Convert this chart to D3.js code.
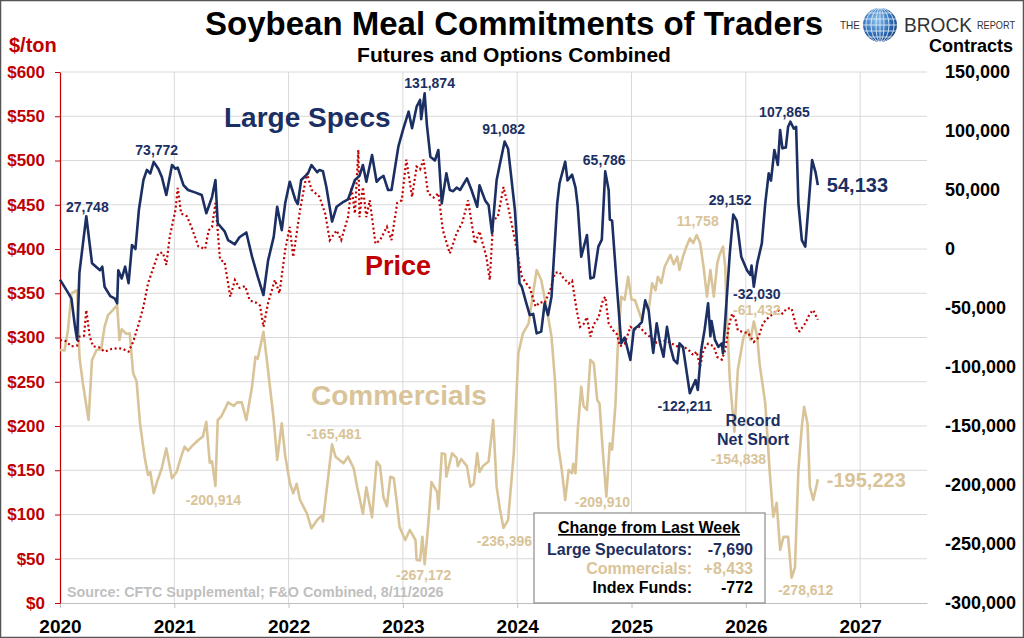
<!DOCTYPE html>
<html>
<head>
<meta charset="utf-8">
<script src="https://cdn.jsdelivr.net/npm/d3@7"></script>
<style>
  body { margin: 0; background: #fff; }
  svg { display: block; font-family: "Liberation Sans", Arial, sans-serif; }
</style>
</head>
<body>
<svg id="chart" width="1024" height="638"></svg>
<script>
// tick labels
const yearTicks = [2020, 2021, 2022, 2023, 2024, 2025, 2026, 2027];
const priceTicks = [0, 50, 100, 150, 200, 250, 300, 350, 400, 450, 500, 550, 600];
const contractTicks = [-300000, -250000, -200000, -150000, -100000, -50000, 0, 50000, 100000, 150000];

// Large speculators net position (contracts), [decimal year, value]
const largeSpecs = [
  [2020.00,-26000],[2020.07,-37000],[2020.10,-42000],[2020.13,-65000],[2020.15,-77000],[2020.17,-20000],
  [2020.23,27748],[2020.28,-12000],[2020.35,-18000],[2020.37,-15000],[2020.39,-32000],[2020.44,-40000],
  [2020.48,-42000],[2020.50,-46000],[2020.51,-18000],[2020.54,-25000],[2020.57,-15000],[2020.60,-29000],
  [2020.63,3400],[2020.66,0],[2020.69,33000],[2020.73,58500],[2020.76,67000],[2020.79,64000],
  [2020.82,73772],[2020.86,68000],[2020.89,61300],[2020.93,45800],[2020.98,71200],[2021.01,68000],
  [2021.03,69000],[2021.08,54200],[2021.12,50000],[2021.18,48000],[2021.24,45800],[2021.28,30300],
  [2021.33,44000],[2021.36,58500],[2021.38,21800],[2021.44,15000],[2021.47,7600],[2021.53,4000],
  [2021.57,10000],[2021.63,14000],[2021.68,-6500],[2021.73,-23500],[2021.78,-39000],[2021.82,-10000],
  [2021.87,10500],[2021.90,35800],[2021.94,16000],[2021.97,38700],[2022.01,57000],[2022.06,41500],
  [2022.08,38000],[2022.11,58500],[2022.17,64100],[2022.20,71200],[2022.25,65000],[2022.27,67000],
  [2022.30,66000],[2022.33,52800],[2022.38,23200],[2022.42,35800],[2022.48,40000],[2022.52,42000],
  [2022.58,58500],[2022.62,62000],[2022.65,71200],[2022.68,57000],[2022.73,79700],[2022.77,57000],
  [2022.80,60000],[2022.83,62000],[2022.87,50000],[2022.90,50000],[2022.96,86700],[2023.00,100800],
  [2023.05,116400],[2023.08,102300],[2023.12,120600],[2023.15,126300],[2023.16,110000],[2023.19,131874],
  [2023.21,105000],[2023.24,78200],[2023.28,75000],[2023.31,83900],[2023.34,38700],[2023.38,64100],
  [2023.41,50000],[2023.44,49000],[2023.47,52000],[2023.50,50000],[2023.56,59900],[2023.60,50000],
  [2023.65,35800],[2023.67,54000],[2023.72,41000],[2023.75,37000],[2023.78,13300],[2023.82,58500],
  [2023.85,72600],[2023.89,91082],[2023.92,85000],[2023.98,33000],[2024.02,-29000],[2024.04,-32000],
  [2024.08,-46000],[2024.11,-56000],[2024.14,-55000],[2024.17,-71500],[2024.21,-70000],[2024.24,-46000],
  [2024.27,-56000],[2024.30,-40400],[2024.35,38700],[2024.37,55700],[2024.42,74000],[2024.44,58000],
  [2024.48,63000],[2024.51,52000],[2024.53,35800],[2024.56,-6500],[2024.61,11900],[2024.64,-25000],
  [2024.67,-24000],[2024.71,2000],[2024.74,8000],[2024.77,65786],[2024.80,50000],[2024.81,25000],
  [2024.83,24000],[2024.87,-29000],[2024.91,-80000],[2024.94,-75000],[2024.99,-94000],[2025.02,-68000],
  [2025.06,-65000],[2025.09,-62000],[2025.12,-43500],[2025.15,-52000],[2025.18,-80000],[2025.19,-88000],
  [2025.22,-63000],[2025.25,-80000],[2025.28,-91300],[2025.31,-66000],[2025.34,-83000],[2025.37,-94000],
  [2025.40,-97000],[2025.42,-80000],[2025.45,-83000],[2025.48,-102600],[2025.51,-122211],[2025.56,-111000],
  [2025.58,-119500],[2025.61,-85600],[2025.64,-68000],[2025.67,-46000],[2025.69,-74000],[2025.70,-61000],
  [2025.73,-77000],[2025.76,-83000],[2025.79,-80000],[2025.80,-88400],[2025.83,-46000],[2025.86,-3600],
  [2025.89,29152],[2025.92,24000],[2025.96,-6500],[2026.01,-18000],[2026.04,-22000],[2026.05,-14000],
  [2026.07,-32030],[2026.10,-12000],[2026.14,4800],[2026.17,38700],[2026.20,64100],[2026.22,58000],
  [2026.25,83900],[2026.28,71200],[2026.30,100800],[2026.32,85300],[2026.35,86000],[2026.37,103600],
  [2026.39,107865],[2026.42,102000],[2026.44,103600],[2026.46,38700],[2026.49,7600],[2026.52,2000],
  [2026.55,38700],[2026.58,75400],[2026.61,65000],[2026.63,54133]
];

// Commercials net position (contracts)
const commercials = [
  [2020.00,-85600],[2020.04,-86000],[2020.07,-68600],[2020.10,-37600],[2020.15,-34800],[2020.17,-91300],
  [2020.20,-113800],[2020.25,-144900],[2020.28,-94000],[2020.32,-85600],[2020.36,-85000],[2020.39,-66000],
  [2020.42,-56000],[2020.45,-53000],[2020.50,-47500],[2020.52,-77100],[2020.54,-68000],[2020.58,-72000],
  [2020.61,-71500],[2020.64,-105300],[2020.67,-112000],[2020.70,-147800],[2020.74,-176000],[2020.77,-191500],
  [2020.79,-189000],[2020.82,-207000],[2020.85,-197000],[2020.89,-186000],[2020.93,-169000],[2020.98,-194300],
  [2021.02,-189000],[2021.06,-176000],[2021.09,-167500],[2021.12,-171000],[2021.15,-167500],[2021.21,-161900],
  [2021.25,-159000],[2021.28,-146400],[2021.31,-181000],[2021.33,-180000],[2021.36,-200914],[2021.38,-144900],
  [2021.41,-142000],[2021.44,-136400],[2021.47,-130000],[2021.52,-133000],[2021.55,-130000],[2021.59,-130000],
  [2021.63,-144900],[2021.68,-116700],[2021.71,-91300],[2021.73,-93000],[2021.78,-70100],[2021.82,-102600],
  [2021.87,-144900],[2021.90,-178800],[2021.94,-147800],[2021.97,-175000],[2022.01,-198000],[2022.04,-207000],
  [2022.07,-199000],[2022.10,-212700],[2022.16,-224000],[2022.20,-236700],[2022.25,-229700],[2022.29,-226000],
  [2022.30,-231000],[2022.35,-190100],[2022.38,-165481],[2022.41,-176000],[2022.48,-181600],[2022.52,-176000],
  [2022.57,-186000],[2022.60,-201900],[2022.62,-210400],[2022.65,-224600],[2022.68,-201900],[2022.73,-227400],
  [2022.77,-180200],[2022.80,-184000],[2022.83,-210400],[2022.86,-218000],[2022.89,-193000],[2022.92,-194000],
  [2022.95,-217500],[2022.97,-235300],[2023.02,-246600],[2023.06,-238100],[2023.11,-246600],[2023.12,-263600],
  [2023.15,-264000],[2023.17,-243800],[2023.19,-267172],[2023.22,-235300],[2023.25,-197600],[2023.30,-206000],
  [2023.31,-220300],[2023.34,-173100],[2023.37,-174000],[2023.38,-193000],[2023.43,-173100],[2023.47,-177000],
  [2023.48,-184000],[2023.51,-178000],[2023.56,-184000],[2023.59,-201400],[2023.62,-199000],[2023.65,-173100],
  [2023.67,-189000],[2023.70,-184000],[2023.75,-180000],[2023.79,-144900],[2023.82,-201400],[2023.85,-221200],
  [2023.88,-236396],[2023.92,-229700],[2023.97,-173100],[2024.01,-88400],[2024.05,-71500],[2024.10,-63000],
  [2024.13,-43200],[2024.17,-17800],[2024.21,-26300],[2024.26,-51700],[2024.30,-74300],[2024.33,-111000],
  [2024.36,-167500],[2024.39,-187300],[2024.42,-212700],[2024.45,-187300],[2024.48,-190000],[2024.49,-182000],
  [2024.51,-190000],[2024.53,-153300],[2024.56,-116700],[2024.58,-133000],[2024.61,-136400],[2024.64,-94000],
  [2024.67,-97000],[2024.70,-128000],[2024.72,-131000],[2024.75,-173100],[2024.78,-209910],[2024.81,-164600],
  [2024.83,-170000],[2024.86,-130800],[2024.88,-82800],[2024.91,-40400],[2024.94,-43000],[2024.97,-23500],
  [2025.00,-43000],[2025.03,-43200],[2025.06,-51700],[2025.09,-60000],[2025.12,-46000],[2025.15,-52000],
  [2025.18,-29000],[2025.21,-35000],[2025.23,-23500],[2025.26,-29000],[2025.29,-15000],[2025.34,-5100],
  [2025.37,-13000],[2025.40,-6500],[2025.42,-17800],[2025.45,-6500],[2025.48,2000],[2025.51,9000],
  [2025.54,5000],[2025.57,11758],[2025.60,5000],[2025.63,-15000],[2025.66,-40400],[2025.69,-17800],
  [2025.72,-40400],[2025.75,-12100],[2025.77,-5000],[2025.80,2000],[2025.82,-15000],[2025.83,-46000],
  [2025.86,-111000],[2025.90,-154838],[2025.93,-102600],[2025.98,-74300],[2026.02,-68600],[2026.04,-77100],
  [2026.07,-61432],[2026.10,-74300],[2026.12,-96900],[2026.17,-130800],[2026.21,-190100],[2026.24,-226900],
  [2026.27,-215000],[2026.30,-255100],[2026.33,-243800],[2026.37,-244000],[2026.40,-278612],[2026.43,-270000],
  [2026.46,-187300],[2026.49,-150600],[2026.51,-133700],[2026.54,-148000],[2026.56,-201400],[2026.59,-212700],
  [2026.62,-200000],[2026.63,-195223]
];

// Soybean meal price ($/ton)
const price = [
  [2020.00,297],[2020.05,296],[2020.10,290],[2020.15,291],[2020.17,301],[2020.21,302],[2020.23,331],
  [2020.26,301],[2020.29,290],[2020.34,289],[2020.39,284],[2020.45,287],[2020.51,288],[2020.55,287],
  [2020.60,284],[2020.64,295],[2020.69,316],[2020.73,335],[2020.77,361],[2020.82,380],[2020.86,395],
  [2020.90,396],[2020.93,382],[2020.96,414],[2021.01,444],[2021.03,469],[2021.06,440],[2021.11,437],
  [2021.15,425],[2021.21,403],[2021.27,400],[2021.30,421],[2021.33,425],[2021.36,452],[2021.40,388],
  [2021.44,385],[2021.49,346],[2021.53,365],[2021.57,356],[2021.62,358],[2021.66,342],[2021.72,339],
  [2021.75,336],[2021.78,312],[2021.82,339],[2021.88,365],[2021.92,350],[2021.97,399],[2022.01,425],
  [2022.04,391],[2022.10,444],[2022.16,486],[2022.20,467],[2022.27,459],[2022.32,440],[2022.36,410],
  [2022.42,421],[2022.46,410],[2022.52,436],[2022.55,470],[2022.58,440],[2022.61,512],[2022.62,436],
  [2022.65,470],[2022.68,436],[2022.71,455],[2022.76,406],[2022.80,410],[2022.86,425],[2022.90,410],
  [2022.95,452],[2022.99,455],[2023.03,501],[2023.08,459],[2023.12,493],[2023.15,490],[2023.18,501],
  [2023.22,463],[2023.27,458],[2023.31,463],[2023.35,421],[2023.41,395],[2023.47,418],[2023.52,430],
  [2023.57,455],[2023.63,406],[2023.67,420],[2023.73,391],[2023.76,365],[2023.79,433],[2023.83,436],
  [2023.88,470],[2023.92,448],[2023.94,436],[2023.98,410],[2024.04,369],[2024.08,361],[2024.11,356],
  [2024.16,335],[2024.20,340],[2024.24,339],[2024.29,354],[2024.33,373],[2024.37,374],[2024.40,368],
  [2024.45,361],[2024.48,364],[2024.52,331],[2024.55,312],[2024.58,315],[2024.61,323],[2024.64,301],
  [2024.67,315],[2024.71,322],[2024.75,342],[2024.77,346],[2024.80,316],[2024.84,308],[2024.87,304],
  [2024.90,290],[2024.94,293],[2024.99,312],[2025.03,309],[2025.07,312],[2025.12,305],[2025.16,301],
  [2025.22,294],[2025.28,297],[2025.34,294],[2025.40,290],[2025.45,290],[2025.50,286],[2025.54,280],
  [2025.57,284],[2025.60,267],[2025.63,286],[2025.67,293],[2025.72,290],[2025.75,278],[2025.79,275],
  [2025.82,286],[2025.85,312],[2025.88,327],[2025.91,320],[2025.93,308],[2025.98,306],[2026.02,305],
  [2026.07,295],[2026.11,300],[2026.15,316],[2026.20,323],[2026.24,327],[2026.28,331],[2026.32,327],
  [2026.36,333],[2026.40,333],[2026.45,308],[2026.47,307],[2026.52,316],[2026.56,327],[2026.59,331],
  [2026.63,320]
];

// highlighted turning points
const specCallouts = [[2020.23,27748],[2020.82,73772],[2023.19,131874],[2023.89,91082],[2024.77,65786],
  [2025.89,29152],[2026.39,107865],[2026.07,-32030],[2025.51,-122211]];
const commCallouts = [[2021.36,-200914],[2022.38,-165481],[2023.19,-267172],[2023.88,-236396],[2024.78,-209910],
  [2025.57,11758],[2026.07,-61432],[2025.90,-154838],[2026.40,-278612]];

const changeRows = [
  ["Large Speculators:", "-7,690"],
  ["Commercials:", "+8,433"],
  ["Index Funds:", "-772"]
];

// ---- layout ----
const navy = "#1b2f63", tan = "#d9c499", red = "#c00000", grid = "#d9d9d9";
const plotL = 60, plotR = 927, plotT = 72, plotB = 603;

const svg = d3.select("#chart");

const x = d3.scaleLinear().domain([2020, 2027.585]).range([plotL, plotR]);
const yPrice = d3.scaleLinear().domain([0, 600]).range([plotB, plotT]);
const yCon = d3.scaleLinear().domain([-300000, 150000]).range([plotB, plotT]);

// plain hyphen for negatives, like the original
const fmt = d3.formatLocale({decimal: ".", thousands: ",", grouping: [3], currency: ["$", ""], minus: "-"}).format(",");

// outer frame
svg.append("rect").attr("x", 0.5).attr("y", 0.5).attr("width", 1023).attr("height", 637)
   .attr("fill", "#fff").attr("stroke", "#555").attr("stroke-width", 1.5);

// grid
svg.append("g").selectAll("line").data(priceTicks.slice(1)).join("line")
   .attr("x1", plotL).attr("x2", plotR)
   .attr("y1", d => yPrice(d)).attr("y2", d => yPrice(d))
   .attr("stroke", grid).attr("stroke-width", 1);
svg.append("g").selectAll("line").data(yearTicks.slice(1)).join("line")
   .attr("x1", d => x(d)).attr("x2", d => x(d))
   .attr("y1", plotT).attr("y2", plotB)
   .attr("stroke", grid).attr("stroke-width", 1);

// bottom axis
const xAxis = svg.append("g").attr("transform", "translate(0," + plotB + ")")
   .call(d3.axisBottom(x).tickValues(yearTicks).tickFormat(d3.format("d")).tickSize(5).tickSizeOuter(0));
xAxis.select(".domain").attr("stroke", "#bfbfbf");
xAxis.selectAll(".tick line").attr("stroke", "#bfbfbf");
xAxis.selectAll("text").attr("font-size", 19).attr("font-weight", "bold").attr("fill", "#000")
   .attr("font-family", "Liberation Sans, Arial, sans-serif").attr("dy", "1.15em");

// left axis (price)
const yAxisL = svg.append("g").attr("transform", "translate(" + plotL + ",0)")
   .call(d3.axisLeft(yPrice).tickValues(priceTicks).tickFormat(d => "$" + d).tickSize(5).tickSizeOuter(0));
yAxisL.select(".domain").attr("stroke", red).attr("stroke-width", 1.2);
yAxisL.selectAll(".tick line").attr("stroke", red);
yAxisL.selectAll("text").attr("font-size", 17).attr("font-weight", "bold").attr("fill", red)
   .attr("font-family", "Liberation Sans, Arial, sans-serif").attr("x", -15);

// right axis (contracts), left-aligned labels
svg.append("g").selectAll("text").data(contractTicks).join("text")
   .attr("x", 945).attr("y", d => yCon(d)).attr("dy", "0.36em")
   .attr("font-size", 18).attr("font-weight", "bold").attr("fill", "#000")
   .text(d => fmt(d));

// series
const lineCon = d3.line().x(d => x(d[0])).y(d => yCon(d[1]));
const linePrice = d3.line().x(d => x(d[0])).y(d => yPrice(d[1]));

svg.append("path").datum(commercials).attr("d", lineCon)
   .attr("fill", "none").attr("stroke", tan).attr("stroke-width", 2.6).attr("stroke-linejoin", "round");
svg.append("path").datum(price).attr("d", linePrice)
   .attr("fill", "none").attr("stroke", red).attr("stroke-width", 2.2).attr("stroke-dasharray", "2,2.6");
svg.append("path").datum(largeSpecs).attr("d", lineCon)
   .attr("fill", "none").attr("stroke", navy).attr("stroke-width", 2.6).attr("stroke-linejoin", "round");

// callouts
const specOffsets = [[1,-4],[3,-7],[5,-5],[-1,-8],[-1,-6],[-3,-10],[-6,-5],[3,12],[-5,18]];
const commOffsets = [[-2,19],[2,-5],[-1,16],[1,18],[-4,10],[1,-9],[3,-6],[4,32],[14,17]];

svg.append("g").selectAll("text").data(specCallouts).join("text")
   .attr("x", (d, i) => x(d[0]) + specOffsets[i][0])
   .attr("y", (d, i) => yCon(d[1]) + specOffsets[i][1])
   .attr("text-anchor", "middle").attr("font-size", 14).attr("font-weight", "bold").attr("fill", navy)
   .text(d => fmt(d[1]));
svg.append("g").selectAll("text").data(commCallouts).join("text")
   .attr("x", (d, i) => x(d[0]) + commOffsets[i][0])
   .attr("y", (d, i) => yCon(d[1]) + commOffsets[i][1])
   .attr("text-anchor", "middle").attr("font-size", 14).attr("font-weight", "bold").attr("fill", tan)
   .text(d => fmt(d[1]));

// last values
const lastSpec = largeSpecs[largeSpecs.length - 1];
const lastComm = commercials[commercials.length - 1];
svg.append("text").attr("x", x(lastSpec[0]) + 9).attr("y", yCon(lastSpec[1]) + 7)
   .attr("font-size", 20).attr("font-weight", "bold").attr("fill", navy).text(fmt(lastSpec[1]));
svg.append("text").attr("x", x(lastComm[0]) + 9).attr("y", yCon(lastComm[1]) + 8)
   .attr("font-size", 20).attr("font-weight", "bold").attr("fill", tan).text(fmt(lastComm[1]));

// series names
svg.append("text").attr("x", 224).attr("y", 127).attr("font-size", 28).attr("font-weight", "bold")
   .attr("fill", navy).text("Large Specs");
svg.append("text").attr("x", 365).attr("y", 275).attr("font-size", 27).attr("font-weight", "bold")
   .attr("fill", red).text("Price");
svg.append("text").attr("x", 311).attr("y", 405).attr("font-size", 28).attr("font-weight", "bold")
   .attr("fill", tan).text("Commercials");
svg.append("text").attr("text-anchor", "middle").attr("font-size", 16).attr("font-weight", "bold")
   .attr("fill", navy)
   .selectAll("tspan").data(["Record", "Net Short"]).join("tspan")
   .attr("x", 753).attr("y", (d, i) => 426 + i * 19).text(d => d);

// source
svg.append("text").attr("x", 67).attr("y", 597).attr("font-size", 14.3).attr("font-weight", "bold")
   .attr("fill", "#bfbfbf").text("Source: CFTC Supplemental; F&O Combined, 8/11/2026");

// change box
const box = svg.append("g");
box.append("rect").attr("x", 534).attr("y", 513).attr("width", 231).attr("height", 90)
   .attr("fill", "#fff").attr("stroke", "#8c8c8c").attr("stroke-width", 1.2);
box.append("text").attr("x", 649).attr("y", 533).attr("text-anchor", "middle")
   .attr("font-size", 16).attr("font-weight", "bold").attr("fill", "#000")
   .attr("text-decoration", "underline").text("Change from Last Week");
const rowColors = [navy, tan, "#000"];
changeRows.forEach((r, i) => {
  box.append("text").attr("x", 692).attr("y", 555 + i * 19).attr("text-anchor", "end")
     .attr("font-size", 16).attr("font-weight", "bold").attr("fill", rowColors[i]).text(r[0]);
  box.append("text").attr("x", 753).attr("y", 555 + i * 19).attr("text-anchor", "end")
     .attr("font-size", 16).attr("font-weight", "bold").attr("fill", rowColors[i]).text(r[1]);
});

// titles
svg.append("text").attr("x", 514).attr("y", 35).attr("text-anchor", "middle")
   .attr("font-size", 33).attr("font-weight", "bold").attr("fill", "#000")
   .text("Soybean Meal Commitments of Traders");
svg.append("text").attr("x", 514).attr("y", 62).attr("text-anchor", "middle")
   .attr("font-size", 21).attr("font-weight", "bold").attr("fill", "#000")
   .text("Futures and Options Combined");
svg.append("text").attr("x", 9).attr("y", 52).attr("font-size", 20).attr("font-weight", "bold")
   .attr("fill", red).text("$/ton");
svg.append("text").attr("x", 1013).attr("y", 52).attr("text-anchor", "end")
   .attr("font-size", 18).attr("font-weight", "bold").attr("fill", "#000").text("Contracts");

// logo
const logo = svg.append("g");
logo.append("text").attr("x", 840).attr("y", 29).attr("font-size", 10.5).attr("fill", "#333")
   .attr("textLength", 20).attr("lengthAdjust", "spacingAndGlyphs").text("THE");
const defs = svg.append("defs");
const grad = defs.append("radialGradient").attr("id", "globe").attr("cx", "40%").attr("cy", "35%").attr("r", "70%");
grad.append("stop").attr("offset", "0%").attr("stop-color", "#8fc3ee");
grad.append("stop").attr("offset", "60%").attr("stop-color", "#2f6fb8");
grad.append("stop").attr("offset", "100%").attr("stop-color", "#173f7a");
defs.append("clipPath").attr("id", "globeClip").append("circle").attr("cx", 880).attr("cy", 25).attr("r", 17);
logo.append("circle").attr("cx", 880).attr("cy", 25).attr("r", 17).attr("fill", "url(#globe)");
const gl = logo.append("g").attr("clip-path", "url(#globeClip)").attr("stroke", "#dbe9f7")
   .attr("stroke-width", 0.9).attr("fill", "none");
[-12, -6, 0, 6, 12].forEach(o => gl.append("line").attr("x1", 860).attr("x2", 900).attr("y1", 25 + o).attr("y2", 25 + o));
[4, 9, 14].forEach(rx => gl.append("ellipse").attr("cx", 880).attr("cy", 25).attr("rx", rx).attr("ry", 17));
gl.append("line").attr("x1", 880).attr("x2", 880).attr("y1", 6).attr("y2", 44);
logo.append("text").attr("x", 904).attr("y", 32).attr("font-size", 21).attr("fill", "#333")
   .attr("textLength", 68).attr("lengthAdjust", "spacingAndGlyphs").text("BROCK");
logo.append("text").attr("x", 977).attr("y", 29).attr("font-size", 10.5).attr("fill", "#333")
   .attr("textLength", 38).attr("lengthAdjust", "spacingAndGlyphs").text("REPORT");
</script>
</body>
</html>
